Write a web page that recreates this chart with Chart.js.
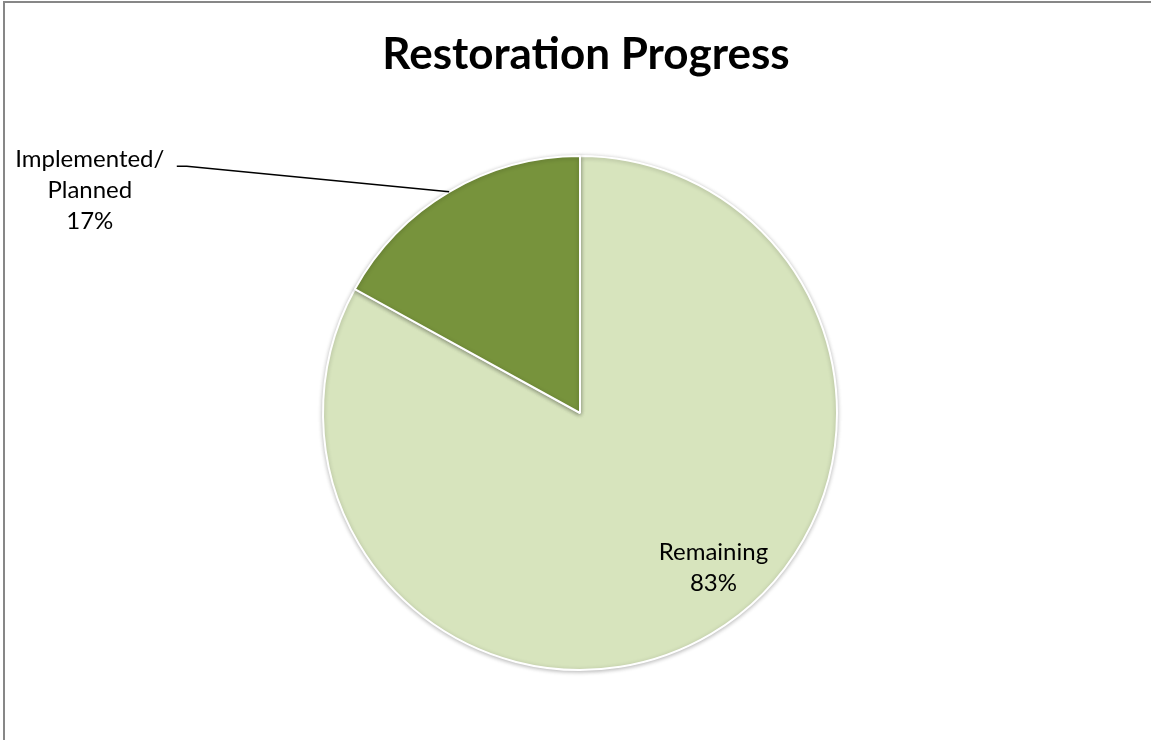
<!DOCTYPE html>
<html>
<head>
<meta charset="utf-8">
<script src="https://cdn.jsdelivr.net/npm/chart.js@4/dist/chart.umd.min.js"></script>
<style>
  html, body { margin: 0; padding: 0; background: #fff; }
  #wrap { position: relative; width: 1151px; height: 740px; }
</style>
</head>
<body>
<div id="wrap"><canvas id="restorationChart" width="1151" height="740"></canvas></div>
<script>
// Chart data
const categories = ['Remaining', 'Implemented/Planned'];
const labelLines = [['Remaining'], ['Implemented/', 'Planned']];
const percentValues = [83, 17];
const sliceColors = ['#D7E4BD', '#77933C'];
const chartTitle = 'Restoration Progress';

const FONT = 'Lato, "Open Sans", sans-serif';

// Frame, title and data labels
const decorPlugin = {
  id: 'decor',
  beforeDraw(chart) {
    const ctx = chart.ctx;
    ctx.save();
    ctx.fillStyle = '#fff';
    ctx.fillRect(0, 0, chart.width, chart.height);
    ctx.strokeStyle = '#878787';
    ctx.lineWidth = 2;
    ctx.beginPath();
    ctx.moveTo(4, chart.height);
    ctx.lineTo(4, 2);
    ctx.lineTo(chart.width, 2);
    ctx.stroke();
    ctx.restore();
  },
  beforeDatasetDraw(chart) {
    const ctx = chart.ctx;
    ctx.save();
    ctx.shadowColor = 'rgba(0,0,0,0.25)';
    ctx.shadowBlur = 4;
    ctx.shadowOffsetX = 0;
    ctx.shadowOffsetY = 1;
  },
  afterDatasetDraw(chart) {
    chart.ctx.restore();
  },
  afterDraw(chart) {
    const ctx = chart.ctx;
    const area = chart.chartArea;
    ctx.save();

    // title
    ctx.fillStyle = '#000';
    ctx.font = 'bold 44px ' + FONT;
    ctx.textAlign = 'center';
    ctx.textBaseline = 'middle';
    ctx.fillText(chartTitle, (area.left + area.right) / 2 + 6, 55);

    const meta = chart.getDatasetMeta(0);
    ctx.font = '24px ' + FONT;

    meta.data.forEach((arc, i) => {
      const r = arc.outerRadius;
      const mid = (arc.startAngle + arc.endAngle) / 2;
      const lines = labelLines[i].concat([percentValues[i] + '%']);
      const lh = 31;
      if (i === 0) {
        // inside label, best-fit toward the lower right
        const a = mid - 0.17;
        const cx = arc.x + Math.cos(a) * r * 0.79;
        const cy = arc.y + Math.sin(a) * r * 0.79;
        lines.forEach((t, k) => {
          ctx.fillText(t, cx + 2, cy + (k - (lines.length - 1) / 2) * lh);
        });
      } else {
        // outside label with leader line
        const ex = arc.x + Math.cos(mid) * r;
        const ey = arc.y + Math.sin(mid) * r;
        const kx = arc.x - r * 1.53;
        const ky = arc.y - r * 0.96;
        ctx.strokeStyle = '#000';
        ctx.lineWidth = 1.5;
        ctx.beginPath();
        ctx.moveTo(ex, ey);
        ctx.lineTo(kx, ky);
        ctx.lineTo(kx - 10, ky);
        ctx.stroke();
        const cx = kx - 97;
        const top = ky - 7;
        lines.forEach((t, k) => {
          ctx.fillText(t, cx, top + k * lh);
        });
      }
    });
    ctx.restore();
  }
};

const canvas = document.getElementById('restorationChart');
new Chart(canvas, {
  type: 'pie',
  data: {
    labels: categories,
    datasets: [{
      data: percentValues,
      backgroundColor: sliceColors,
      borderColor: '#ffffff',
      borderWidth: 2,
    }],
  },
  options: {
    responsive: false,
    animation: false,
    layout: {
      padding: { top: 155, bottom: 69, left: 322, right: 313 },
    },
    plugins: {
      legend: { display: false },
      title: { display: false },
      tooltip: { enabled: false },
    },
  },
  plugins: [decorPlugin],
});
</script>
</body>
</html>
